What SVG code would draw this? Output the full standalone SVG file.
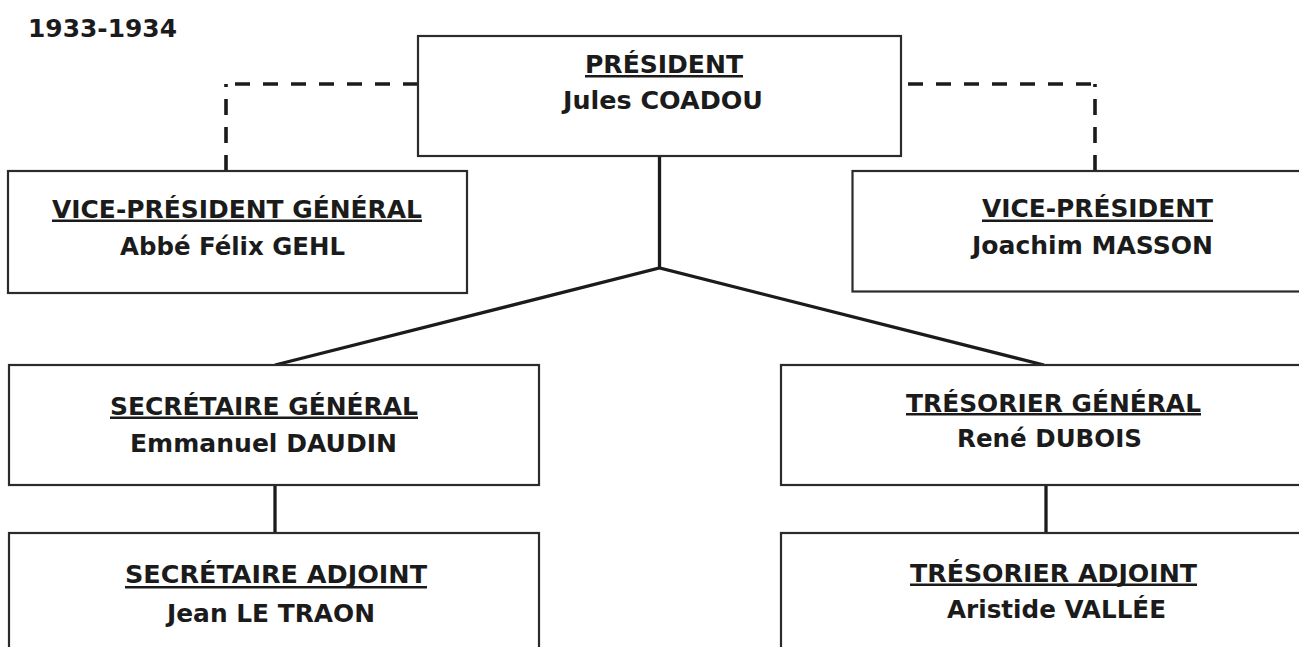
<svg xmlns="http://www.w3.org/2000/svg" width="1299" height="647" viewBox="0 0 1299 647">
<style>
.box{fill:#fff;stroke:#2b2b2b;stroke-width:2.2}
.t{font-family:"DejaVu Sans","Liberation Sans",sans-serif;font-weight:bold;font-size:25px;fill:#1b1b1b}
.ul{fill:#1b1b1b}
.solid{fill:none;stroke:#1b1b1b;stroke-width:3.3}
.dash{fill:none;stroke:#1b1b1b;stroke-width:3.6}
</style>
<rect width="1299" height="647" fill="#fff"/>
<text class="t" x="28" y="37" font-size="28" textLength="149" lengthAdjust="spacingAndGlyphs">1933-1934</text>
<g id="connectors">
<line class="dash" x1="418" y1="84" x2="224" y2="84" stroke-dasharray="15 13"/>
<line class="dash" x1="226" y1="171" x2="226" y2="84" stroke-dasharray="16 12"/>
<line class="dash" x1="908" y1="84" x2="1095" y2="84" stroke-dasharray="15 13"/>
<line class="dash" x1="1095" y1="171" x2="1095" y2="84" stroke-dasharray="16 12"/>
<polyline class="solid" points="659.5,156 659.5,268"/>
<polyline class="solid" points="275,365 659.5,268 1044,365" stroke-linejoin="miter"/>
<line class="solid" x1="275" y1="485" x2="275" y2="533"/>
<line class="solid" x1="1046" y1="485" x2="1046" y2="533"/>
</g>
<g id="president">
<rect class="box" x="418" y="36" width="483" height="120"/>
<text class="t" x="585" y="72.5" textLength="158" lengthAdjust="spacingAndGlyphs">PRÉSIDENT</text>
<rect class="ul" x="585" y="75" width="158" height="2.5"/>
<text class="t" x="563" y="109" textLength="200" lengthAdjust="spacingAndGlyphs">Jules COADOU</text>
</g>
<g id="vp-general">
<rect class="box" x="8" y="171" width="459" height="122"/>
<text class="t" x="52" y="218" textLength="370" lengthAdjust="spacingAndGlyphs">VICE-PRÉSIDENT GÉNÉRAL</text>
<rect class="ul" x="52" y="219.5" width="370" height="2.5"/>
<text class="t" x="120" y="255" textLength="225" lengthAdjust="spacingAndGlyphs">Abbé Félix GEHL</text>
</g>
<g id="vp">
<rect class="box" x="852.5" y="171" width="460" height="120.5"/>
<text class="t" x="982" y="216.5" textLength="231" lengthAdjust="spacingAndGlyphs">VICE-PRÉSIDENT</text>
<rect class="ul" x="982" y="219.5" width="231" height="2.5"/>
<text class="t" x="972" y="254" textLength="241" lengthAdjust="spacingAndGlyphs">Joachim MASSON</text>
</g>
<g id="secretaire-general">
<rect class="box" x="9" y="365" width="530" height="120"/>
<text class="t" x="110" y="415" textLength="308" lengthAdjust="spacingAndGlyphs">SECRÉTAIRE GÉNÉRAL</text>
<rect class="ul" x="110" y="416.5" width="308" height="2.5"/>
<text class="t" x="130" y="451.5" textLength="267" lengthAdjust="spacingAndGlyphs">Emmanuel DAUDIN</text>
</g>
<g id="tresorier-general">
<rect class="box" x="781" y="365" width="530" height="120"/>
<text class="t" x="906" y="411.5" textLength="295" lengthAdjust="spacingAndGlyphs">TRÉSORIER GÉNÉRAL</text>
<rect class="ul" x="906" y="413" width="295" height="2.5"/>
<text class="t" x="957" y="447" textLength="185" lengthAdjust="spacingAndGlyphs">René DUBOIS</text>
</g>
<g id="secretaire-adjoint">
<rect class="box" x="9" y="533" width="530" height="130"/>
<text class="t" x="125" y="583" textLength="302" lengthAdjust="spacingAndGlyphs">SECRÉTAIRE ADJOINT</text>
<rect class="ul" x="125" y="586" width="302" height="2.5"/>
<text class="t" x="167" y="621.5" textLength="208" lengthAdjust="spacingAndGlyphs">Jean LE TRAON</text>
</g>
<g id="tresorier-adjoint">
<rect class="box" x="781" y="533" width="530" height="130"/>
<text class="t" x="910" y="581.5" textLength="287" lengthAdjust="spacingAndGlyphs">TRÉSORIER ADJOINT</text>
<rect class="ul" x="910" y="583.5" width="287" height="2.5"/>
<text class="t" x="947" y="618" textLength="219" lengthAdjust="spacingAndGlyphs">Aristide VALLÉE</text>
</g>
</svg>
